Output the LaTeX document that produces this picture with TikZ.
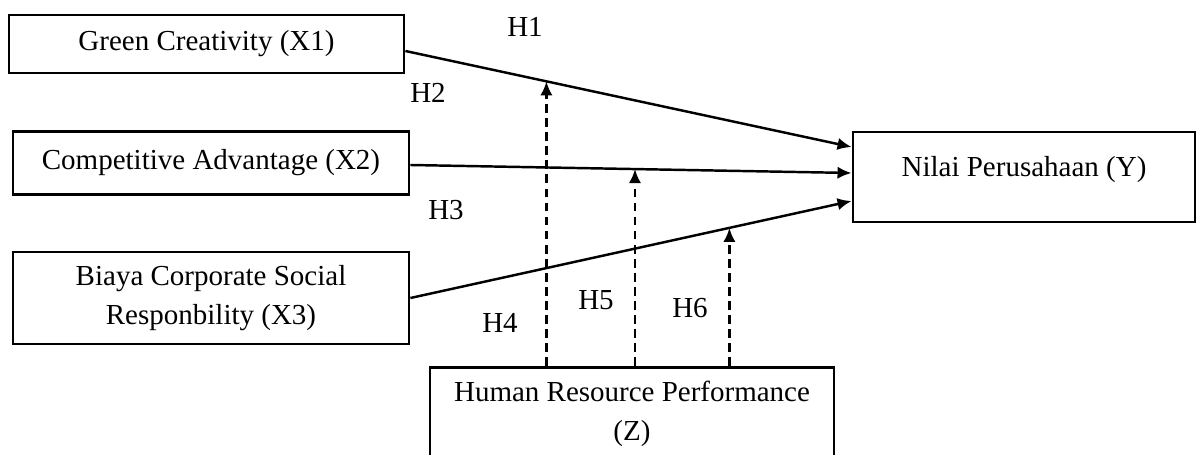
\documentclass[tikz,border=0pt]{standalone}
\usepackage{fontspec}
\setmainfont{Liberation Serif}
\usetikzlibrary{arrows.meta}

\tikzset{
  varbox/.style={draw, line width=1.6pt, align=center, inner sep=0pt},
  hyp/.style={-{Latex[length=8pt,width=7pt]}, line width=1.4pt},
  moder/.style={-{Latex[length=8pt,width=7pt]}, line width=1.4pt, dash pattern=on 5pt off 3pt},
}

\begin{document}
\begin{tikzpicture}[font=\fontsize{16.5}{22}\selectfont]
	\useasboundingbox (0,0) rectangle (23.96,-9.1);
	% variabel
	\node [varbox, minimum width=7.9cm, minimum height=1.16cm] (x1) at (4.13,-0.88) {Green Creativity (X1)};
	\node [varbox, minimum width=7.92cm, minimum height=1.26cm] (x2) at (4.22,-3.26) {Competitive Advantage (X2)};
	\node [varbox, minimum width=7.92cm, minimum height=1.84cm] (x3) at (4.22,-5.96) {Biaya Corporate Social\\Responbility (X3)};
	\node [varbox, minimum width=6.84cm, minimum height=1.8cm, text depth=0.43cm] (y) at (20.48,-3.54) {Nilai Perusahaan (Y)};
	\node [varbox, anchor=north, minimum width=8.08cm, minimum height=1.86cm] (z) at (12.64,-7.32) {Human Resource Performance\\(Z)};
	% pengaruh langsung
	\draw [hyp] ([yshift=-0.14cm]x1.east) -- coordinate[pos=0.316] (m1) ([yshift=0.6cm]y.west);
	\draw [hyp] ([yshift=-0.04cm]x2.east) -- coordinate[pos=0.509] (m2) ([yshift=0.08cm]y.west);
	\draw [hyp] (x3.east) -- coordinate[pos=0.723] (m3) ([yshift=-0.48cm]y.west);
	% moderasi
	\draw [moder] (m1 |- z.north) -- (m1);
	\draw [moder] (m2 |- z.north) -- (m2);
	\draw [moder] (m3 |- z.north) -- (m3);
	% hipotesis
	\node (h1) at (10.5,-0.54) {H1};
	\node (h2) at (8.56,-1.86) {H2};
	\node (h3) at (8.92,-4.2) {H3};
	\node (h4) at (10.0,-6.46) {H4};
	\node (h5) at (11.92,-6.0) {H5};
	\node (h6) at (13.8,-6.16) {H6};
\end{tikzpicture}
\end{document}
